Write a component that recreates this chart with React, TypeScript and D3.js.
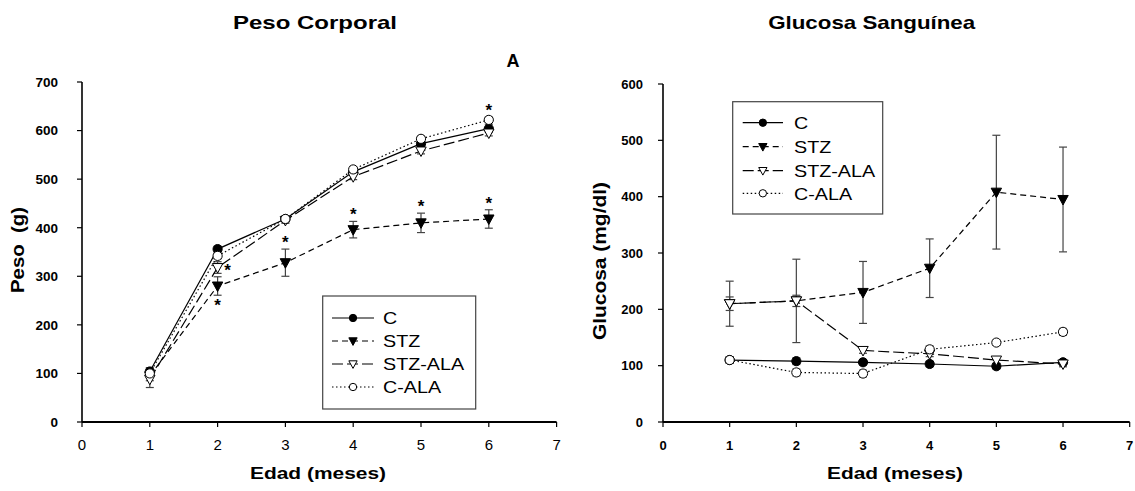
import React from "react";
import * as d3 from "d3";

// Months of age (x values shared by both panels)
const months = [1, 2, 3, 4, 5, 6];
const seriesNames = ["C", "STZ", "STZ-ALA", "C-ALA"];

// Body weight (g)
const pesoC = [104, 356, 418, 515, 573, 604];
const pesoSTZ = [95, 280, 328, 396, 410, 418];
const pesoSTZALA = [88, 318, 415, 505, 558, 595];
const pesoCALA = [100, 342, 418, 520, 583, 622];
const pesoCErr = [8, 6, 6, 6, 6, 8];
const pesoSTZErr = [10, 19, 28, 17, 20, 19];
const pesoSTZALAErr = [17, 12, 6, 6, 6, 6];
const pesoCALAErr = [8, 6, 6, 6, 6, 6];

// Blood glucose (mg/dl)
const gluC = [110, 108, 106, 103, 99, 106];
const gluSTZ = [210, 215, 230, 273, 408, 395];
const gluSTZALA = [210, 215, 127, 121, 110, 103];
const gluCALA = [110, 88, 86, 129, 141, 160];
const gluCErr = [6, 6, 5, 5, 5, 5];
const gluSTZErr = [40, 74, 55, 52, 101, 93];
const gluSTZALAErr = [12, 10, 5, 5, 6, 5];
const gluCALAErr = [6, 6, 6, 6, 5, 6];

// Significance marks: series index, month, placement
const pesoStars = [
  { s: 1, m: 2, pos: "below" },
  { s: 2, m: 2, pos: "right" },
  { s: 1, m: 3, pos: "above" },
  { s: 1, m: 4, pos: "above" },
  { s: 1, m: 5, pos: "above" },
  { s: 1, m: 6, pos: "above" },
  { s: 3, m: 6, pos: "above" },
];

const xTicks = [0, 1, 2, 3, 4, 5, 6, 7];
const pesoTicks = [0, 100, 200, 300, 400, 500, 600, 700];
const gluTicks = [0, 100, 200, 300, 400, 500, 600];

const FONT = "Arial, 'Liberation Sans', Helvetica, sans-serif";

const styles = [
  { dash: null, fill: "#000", shape: "circle" },
  { dash: "6,4", fill: "#000", shape: "tri" },
  { dash: "11,4", fill: "#fff", shape: "tri" },
  { dash: "1.5,2.5", fill: "#fff", shape: "circle" },
];

function Marker({ x, y, k, small }: { x: number; y: number; k: number; small?: boolean }) {
  const st = styles[k];
  const f = small ? 0.8 : 1;
  if (st.shape === "circle") {
    return <circle cx={x} cy={y} r={4.6 * f} fill={st.fill} stroke="#000" strokeWidth={1} />;
  }
  const w = 5.2 * f, h1 = 4 * f, h2 = 5.5 * f;
  return (
    <path
      d={`M${x - w},${y - h1}L${x + w},${y - h1}L${x},${y + h2}Z`}
      fill={st.fill}
      stroke="#000"
      strokeWidth={1}
    />
  );
}

// Text widened horizontally by factor sx
function WideText({ x, y, sx, size, bold, anchor, children }: any) {
  return (
    <text
      transform={`translate(${x},${y}) scale(${sx},1)`}
      textAnchor={anchor || "start"}
      fontSize={size}
      fontWeight={bold ? "bold" : "normal"}
    >
      {children}
    </text>
  );
}

type PanelProps = {
  values: number[][];
  errors: number[][];
  yTicks: number[];
  xRange: [number, number];
  yRange: [number, number];
  yMax: number;
  title: string;
  titleX: number;
  titleLen: number;
  yTitle: string;
  yTitleX: number;
  yTitleY: number;
  yTitleLen: number;
  xTitleX: number;
  xTickBold: boolean;
  yTickSize: number;
  yLabelGap: number;
  legend: { x0: number; y0: number; x1: number; y1: number; rows: number[]; lx0: number; lx1: number; tx: number };
  stars?: { s: number; m: number; pos: string }[];
};

function Panel(p: PanelProps) {
  const x = d3.scaleLinear().domain([0, 7]).range(p.xRange);
  const y = d3.scaleLinear().domain([0, p.yMax]).range(p.yRange);
  const line = d3
    .line<number>()
    .x((_, i) => x(months[i]))
    .y((d) => y(d));
  const [x0, x1] = p.xRange;
  const [yb, yt] = p.yRange;
  const L = p.legend;
  return (
    <g fontFamily={FONT}>
      <text
        x={p.titleX - p.titleLen / 2}
        y={28.5}
        fontWeight="bold"
        fontSize={18.5}
        textLength={p.titleLen}
        lengthAdjust="spacingAndGlyphs"
      >
        {p.title}
      </text>
      {/* error bars */}
      {p.values.map((vals, k) =>
        vals.map((v, i) => {
          const e = p.errors[k][i];
          const cx = x(months[i]);
          return (
            <g key={`e${k}-${i}`} stroke="#444" strokeWidth={1.2}>
              <line x1={cx} x2={cx} y1={y(v - e)} y2={y(v + e)} />
              <line x1={cx - 4} x2={cx + 4} y1={y(v + e)} y2={y(v + e)} />
              <line x1={cx - 4} x2={cx + 4} y1={y(v - e)} y2={y(v - e)} />
            </g>
          );
        })
      )}
      {/* series lines */}
      {p.values.map((vals, k) => (
        <path
          key={`l${k}`}
          d={line(vals) || ""}
          fill="none"
          stroke="#000"
          strokeWidth={1.2}
          strokeDasharray={styles[k].dash || undefined}
        />
      ))}
      {/* markers */}
      {p.values.map((vals, k) =>
        vals.map((v, i) => <Marker key={`m${k}-${i}`} x={x(months[i])} y={y(v)} k={k} />)
      )}
      {/* significance stars */}
      {(p.stars || []).map((s, j) => {
        const i = months.indexOf(s.m);
        const v = p.values[s.s][i];
        const e = p.errors[s.s][i];
        const cx = x(s.m);
        let tx = cx, ty = y(v + e) - 1;
        if (s.pos === "below") ty = y(v - e) + 16;
        if (s.pos === "right") { tx = cx + 10; ty = y(v) + 8; }
        return (
          <text key={`s${j}`} x={tx} y={ty} textAnchor="middle" fontWeight="bold" fontSize={17}>
            *
          </text>
        );
      })}
      {/* axes */}
      <line x1={x0} x2={x1} y1={yb} y2={yb} stroke="#000" strokeWidth={2.2} />
      <line x1={x0} x2={x0} y1={yb} y2={yt} stroke="#000" strokeWidth={1.6} />
      {xTicks.map((t) => (
        <g key={`xt${t}`}>
          <line x1={x(t)} x2={x(t)} y1={yb} y2={yb + 5} stroke="#000" strokeWidth={1.2} />
          <text
            x={x(t)}
            y={yb + 28}
            textAnchor="middle"
            fontSize={p.xTickBold ? 13 : 15}
            fontWeight={p.xTickBold ? "bold" : "normal"}
          >
            {t}
          </text>
        </g>
      ))}
      {p.yTicks.map((t) => (
        <g key={`yt${t}`}>
          <line x1={x0 - 5} x2={x0} y1={y(t)} y2={y(t)} stroke="#000" strokeWidth={1.2} />
          <text x={x0 - p.yLabelGap} y={y(t) + 4.8} textAnchor="end" fontSize={p.yTickSize} fontWeight="bold">
            {t}
          </text>
        </g>
      ))}
      <text
        x={p.xTitleX - 68}
        y={479}
        fontWeight="bold"
        fontSize={17}
        textLength={136}
        lengthAdjust="spacingAndGlyphs"
      >
        Edad (meses)
      </text>
      <text
        transform={`translate(${p.yTitleX},${p.yTitleY}) rotate(-90)`}
        x={-p.yTitleLen / 2}
        fontWeight="bold"
        fontSize={19}
        textLength={p.yTitleLen}
        lengthAdjust="spacingAndGlyphs"
        style={{ whiteSpace: "pre" }}
      >
        {p.yTitle}
      </text>
      {/* legend */}
      <rect x={L.x0} y={L.y0} width={L.x1 - L.x0} height={L.y1 - L.y0} fill="#fff" stroke="#444" strokeWidth={1.2} />
      {seriesNames.map((n, k) => (
        <g key={`lg${k}`}>
          <line
            x1={L.lx0}
            x2={L.lx1}
            y1={L.rows[k]}
            y2={L.rows[k]}
            stroke="#000"
            strokeWidth={1.2}
            strokeDasharray={styles[k].dash || undefined}
          />
          <Marker x={(L.lx0 + L.lx1) / 2} y={L.rows[k]} k={k} small />
          <WideText x={L.tx} y={L.rows[k] + 6.2} sx={1.16} size={17}>
            {n}
          </WideText>
        </g>
      ))}
    </g>
  );
}

export default function App() {
  return (
    <svg width={1135} height={491} style={{ position: "absolute", left: 0, top: 0, background: "#fff" }}>
      <rect width={1135} height={491} fill="#fff" />
      <Panel
        values={[pesoC, pesoSTZ, pesoSTZALA, pesoCALA]}
        errors={[pesoCErr, pesoSTZErr, pesoSTZALAErr, pesoCALAErr]}
        yTicks={pesoTicks}
        xRange={[82, 556.6]}
        yRange={[422, 82]}
        yMax={700}
        title="Peso Corporal"
        titleX={315}
        titleLen={164}
        yTitle="Peso  (g)"
        yTitleX={24}
        yTitleY={250}
        yTitleLen={86}
        xTitleX={318}
        xTickBold={false}
        yTickSize={13.5}
        yLabelGap={24}
        legend={{ x0: 322.7, y0: 296, x1: 475.7, y1: 409, rows: [318, 341, 364, 387], lx0: 332, lx1: 374, tx: 383 }}
        stars={pesoStars}
      />
      <text x={513} y={67} textAnchor="middle" fontWeight="bold" fontSize={18} fontFamily={FONT}>
        A
      </text>
      <Panel
        values={[gluC, gluSTZ, gluSTZALA, gluCALA]}
        errors={[gluCErr, gluSTZErr, gluSTZALAErr, gluCALAErr]}
        yTicks={gluTicks}
        xRange={[663, 1129.7]}
        yRange={[422, 84]}
        yMax={600}
        title="Glucosa Sanguínea"
        titleX={871.7}
        titleLen={207}
        yTitle="Glucosa (mg/dl)"
        yTitleX={606}
        yTitleY={261}
        yTitleLen={158}
        xTitleX={895}
        xTickBold={true}
        yTickSize={13}
        yLabelGap={20}
        legend={{ x0: 732.7, y0: 101.7, x1: 882.7, y1: 214, rows: [122.7, 146.7, 170.7, 193.3], lx0: 742.7, lx1: 783, tx: 794 }}
      />
    </svg>
  );
}
